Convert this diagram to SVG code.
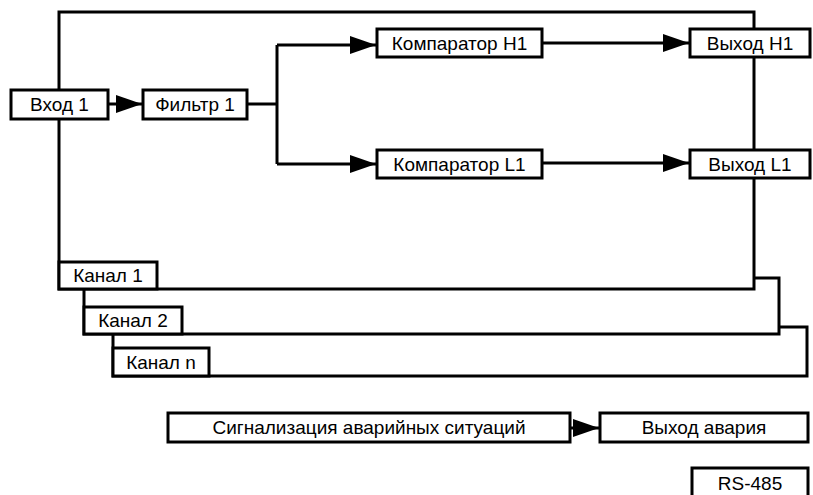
<svg xmlns="http://www.w3.org/2000/svg" width="813" height="495" viewBox="0 0 813 495">
<style>
.box{fill:#fff;stroke:#000;stroke-width:3}
.ln{fill:none;stroke:#000;stroke-width:3;stroke-linejoin:miter}
.t{font-family:"Liberation Sans",Arial,sans-serif;font-size:19px;fill:#000;text-anchor:middle}
</style>
<defs>
<marker id="ar" markerUnits="userSpaceOnUse" markerWidth="27" markerHeight="18" refX="26" refY="9" orient="auto">
<path d="M0,0 L26,9 L0,18 z" fill="#000"/>
</marker>
</defs>
<rect width="813" height="495" fill="#fff"/>
<g id="connectors">
<path class="ln" d="M113,334 V376 H807 V327 H779"/>
<path class="ln" d="M84,289 V334 H779 V278 H754"/>
<path class="ln" d="M59,289 V12 H754 V289 Z"/>
<path class="ln" d="M108,104 H142" marker-end="url(#ar)"/>
<path class="ln" d="M247,104 H277"/>
<path class="ln" d="M277,45 V164"/>
<path class="ln" d="M277,45 H376" marker-end="url(#ar)"/>
<path class="ln" d="M277,164 H376" marker-end="url(#ar)"/>
<path class="ln" d="M542,43 H689" marker-end="url(#ar)"/>
<path class="ln" d="M542,163 H689" marker-end="url(#ar)"/>
<path class="ln" d="M570,428 H599" marker-end="url(#ar)"/>
</g>
<g id="vhod1"><rect class="box" x="11" y="90" width="97" height="29"/><text class="t" x="59.5" y="111">Вход 1</text></g>
<g id="filtr1"><rect class="box" x="143" y="90" width="104" height="29"/><text class="t" x="195" y="111">Фильтр 1</text></g>
<g id="compH1"><rect class="box" x="377" y="29" width="165" height="28"/><text class="t" x="459.5" y="50">Компаратор H1</text></g>
<g id="compL1"><rect class="box" x="377" y="150" width="165" height="28"/><text class="t" x="459.5" y="171">Компаратор L1</text></g>
<g id="vyhodH1"><rect class="box" x="690" y="29" width="120" height="28"/><text class="t" x="750" y="50">Выход H1</text></g>
<g id="vyhodL1"><rect class="box" x="690" y="150" width="120" height="28"/><text class="t" x="750" y="171">Выход L1</text></g>
<g id="kanal1"><rect class="box" x="59" y="262" width="98" height="27"/><text class="t" x="108" y="282">Канал 1</text></g>
<g id="kanal2"><rect class="box" x="84" y="307" width="98" height="27"/><text class="t" x="133" y="327">Канал 2</text></g>
<g id="kanaln"><rect class="box" x="113" y="348" width="96" height="28"/><text class="t" x="161" y="369">Канал n</text></g>
<g id="signal"><rect class="box" x="168" y="413" width="402" height="29"/><text class="t" x="369" y="434">Сигнализация аварийных ситуаций</text></g>
<g id="vyhodAvaria"><rect class="box" x="600" y="413" width="208" height="29"/><text class="t" x="704" y="434">Выход авария</text></g>
<g id="rs485"><rect class="box" x="692" y="468" width="116" height="32"/><text class="t" x="750" y="490">RS-485</text></g>
</svg>
